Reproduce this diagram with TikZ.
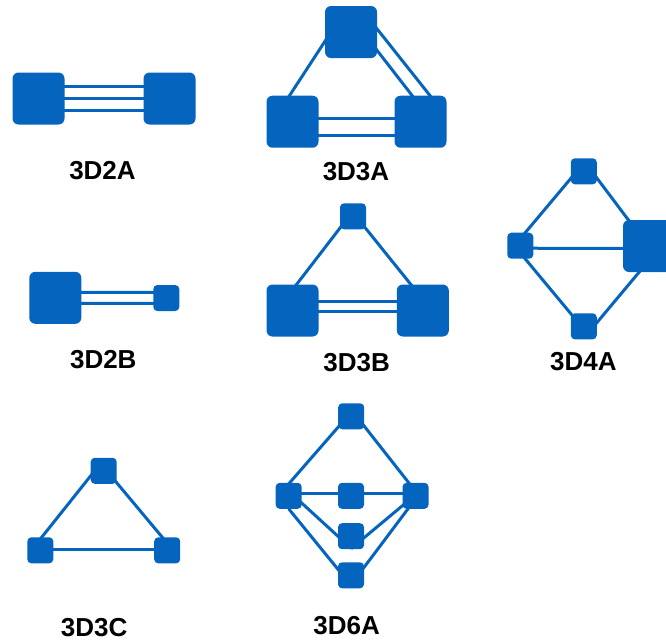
\documentclass[tikz,border=0pt]{standalone}
\usepackage{fontspec}
\setmainfont{Liberation Sans}
\usetikzlibrary{backgrounds}
\definecolor{netblue}{RGB}{5,100,190}

\begin{document}
\begin{tikzpicture}[
        x=1pt, y=-1pt,
        big/.style={rectangle, rounded corners=6pt, fill=netblue, inner sep=0pt, minimum size=52pt},
        small/.style={rectangle, rounded corners=4pt, fill=netblue, inner sep=0pt, minimum size=26pt},
        lbl/.style={inner sep=0pt, font=\fontsize{26}{30}\selectfont\bfseries},
        edge/.style={netblue, line width=3pt}
    ]
    \useasboundingbox (0,0) rectangle (666,641);

    % 3D2A
    \node[big] (a1) at (38.5,98.5) {};
    \node[big] (a2) at (169.5,98.5) {};
    \node[lbl] (la) at (102.5,171) {3D2A};
    % 3D3A
    \node[big] (b1) at (351,32) {};
    \node[big] (b2) at (292.5,121.7) {};
    \node[big] (b3) at (420.5,121.7) {};
    \node[lbl] (lb) at (356,172) {3D3A};
    % 3D2B
    \node[big] (c1) at (55.3,297.8) {};
    \node[small] (c2) at (166.3,298) {};
    \node[lbl] (lc) at (103.3,359.7) {3D2B};
    % 3D3B
    \node[small] (d1) at (353,216.3) {};
    \node[big] (d2) at (292.5,310.5) {};
    \node[big] (d3) at (422.8,310.5) {};
    \node[lbl] (ld) at (356.7,362.5) {3D3B};
    % 3D4A
    \node[small] (e1) at (583.8,171.3) {};
    \node[small] (e2) at (520.3,245.7) {};
    \node[big] (e3) at (649,246) {};
    \node[small] (e4) at (583.8,326.3) {};
    \node[lbl] (le) at (583.3,361.7) {3D4A};
    % 3D3C
    \node[small] (f1) at (103.7,470.8) {};
    \node[small] (f2) at (40.3,550.3) {};
    \node[small] (f3) at (167.2,550.3) {};
    \node[lbl] (lf) at (94.2,627.5) {3D3C};
    % 3D6A
    \node[small] (g1) at (351.2,416.3) {};
    \node[small] (g2) at (288.7,495.8) {};
    \node[small] (g3) at (351,495.8) {};
    \node[small] (g4) at (415.5,495.8) {};
    \node[small] (g5) at (351,536.2) {};
    \node[small] (g6) at (351,575.3) {};
    \node[lbl] (lg) at (346.7,626) {3D6A};

    \begin{pgfonlayer}{background}
        % 3D2A
        \foreach \dy in {-12,0,12}
            \draw[edge] ([shift={(0,\dy)}]a1.center) -- ([shift={(0,\dy)}]a2.center);
        % 3D3A
        \draw[edge] ([shift={(-20,0)}]b1.center) -- ([shift={(-20,0)}]b2.center);
        \draw[edge] ([shift={(19,-12)}]b1.center) -- ([shift={(17,-16.7)}]b3.center);
        \draw[edge] ([shift={(18,8)}]b1.center) -- ([shift={(-1,-16.7)}]b3.center);
        \foreach \dy in {-3.4,13.3}
            \draw[edge] ([shift={(0,\dy)}]b2.center) -- ([shift={(0,\dy)}]b3.center);
        % 3D2B
        \foreach \dy in {-5.5,5.5}
            \draw[edge] ([shift={(0,\dy)}]c1.center) -- ([shift={(0,\dy)}]c2.center);
        % 3D3B
        \draw[edge] ([shift={(-4,0)}]d1.center) -- ([shift={(-16,0)}]d2.center);
        \draw[edge] ([shift={(3,0)}]d1.center) -- ([shift={(9,0)}]d3.center);
        \foreach \dy in {-9.5,1.2}
            \draw[edge] ([shift={(0,\dy)}]d2.center) -- ([shift={(0,\dy)}]d3.center);
        % 3D4A
        \draw[edge] ([shift={(-7,0)}]e1.center) -- ([shift={(-6,0)}]e2.center);
        \draw[edge] ([shift={(8,0)}]e1.center) -- ([shift={(-1,0)}]e3.center);
        \draw[edge] ([shift={(0,2.5)}]e2.center) -- ([shift={(0,2.5)}]e3.center);
        \draw[edge] ([shift={(-6,0)}]e2.center) -- ([shift={(-2.5,0)}]e4.center);
        \draw[edge] ([shift={(10,0)}]e4.center) -- ([shift={(12,0)}]e3.center);
        % 3D3C
        \draw[edge] ([shift={(-9,0)}]f1.center) -- ([shift={(-9,0)}]f2.center);
        \draw[edge] ([shift={(3,0)}]f1.center) -- ([shift={(6,0)}]f3.center);
        \draw[edge] ([shift={(0,-1)}]f2.center) -- ([shift={(0,-1)}]f3.center);
        % 3D6A
        \draw[edge] ([shift={(-3.6,0)}]g1.center) -- ([shift={(-10.4,0)}]g2.center);
        \draw[edge] ([shift={(5.3,0)}]g1.center) -- ([shift={(3.5,0)}]g4.center);
        \draw[edge] ([shift={(0,-2)}]g2.center) -- ([shift={(0,-2)}]g3.center);
        \draw[edge] ([shift={(0,-2)}]g3.center) -- ([shift={(0,-2)}]g4.center);
        \draw[edge] ([shift={(0,-4.7)}]g2.center) -- ([shift={(0,12)}]g5.center);
        \draw[edge] ([shift={(0,13)}]g2.center) -- ([shift={(0,10)}]g6.center);
        \draw[edge] ([shift={(0,-1)}]g4.center) -- ([shift={(0,12.4)}]g5.center);
        \draw[edge] ([shift={(0,3)}]g4.center) -- ([shift={(0,9.4)}]g6.center);
    \end{pgfonlayer}
\end{tikzpicture}
\end{document}
